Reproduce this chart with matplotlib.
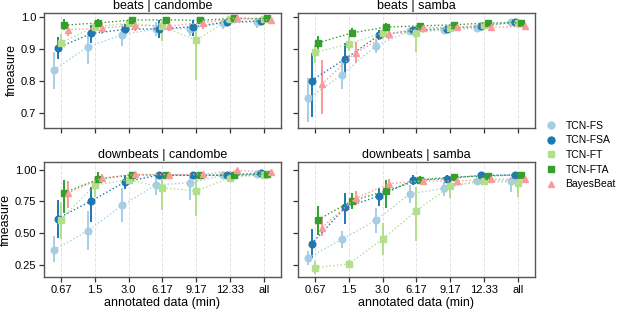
import numpy as np
import matplotlib
matplotlib.use("Agg")
import matplotlib.pyplot as plt

plt.rcParams["font.family"] = ["Liberation Sans", "DejaVu Sans"]

categories = ["0.67", "1.5", "3.0", "6.17", "9.17", "12.33", "all"]
models = ["TCN-FS", "TCN-FSA", "TCN-FT", "TCN-FTA", "BayesBeat"]
colors = ["#a6cee3", "#1f78b4", "#b2df8a", "#33a02c", "#fb9a99"]
markers = ["o", "o", "s", "s", "^"]

# beats | candombe  (mean, ci low, ci high) per model
bc_mean = {
    "TCN-FS":    [0.833, 0.906, 0.942, 0.962, 0.962, 0.980, 0.983],
    "TCN-FSA":   [0.902, 0.947, 0.960, 0.962, 0.968, 0.983, 0.986],
    "TCN-FT":    [0.918, 0.967, 0.980, 0.969, 0.926, 0.993, 0.993],
    "TCN-FTA":   [0.973, 0.980, 0.989, 0.990, 0.988, 0.994, 0.994],
    "BayesBeat": [0.959, 0.964, 0.972, 0.971, 0.980, 0.996, 0.988],
}
bc_lo = {
    "TCN-FS":    [0.772, 0.851, 0.909, 0.940, 0.940, 0.962, 0.965],
    "TCN-FSA":   [0.867, 0.918, 0.938, 0.932, 0.940, 0.970, 0.973],
    "TCN-FT":    [0.890, 0.948, 0.962, 0.924, 0.803, 0.986, 0.986],
    "TCN-FTA":   [0.957, 0.973, 0.980, 0.983, 0.978, 0.988, 0.988],
    "BayesBeat": [0.938, 0.945, 0.955, 0.954, 0.962, 0.990, 0.980],
}
bc_hi = {
    "TCN-FS":    [0.890, 0.952, 0.977, 0.983, 0.980, 0.990, 0.993],
    "TCN-FSA":   [0.936, 0.972, 0.978, 0.988, 0.990, 0.993, 0.996],
    "TCN-FT":    [0.946, 0.988, 0.993, 0.993, 0.962, 0.998, 0.998],
    "TCN-FTA":   [0.993, 0.993, 0.998, 0.998, 0.996, 0.998, 0.998],
    "BayesBeat": [0.978, 0.980, 0.988, 0.988, 0.990, 1.000, 0.996],
}

# beats | samba
bs_mean = {
    "TCN-FS":    [0.744, 0.818, 0.909, 0.955, 0.957, 0.964, 0.983],
    "TCN-FSA":   [0.800, 0.868, 0.942, 0.957, 0.962, 0.970, 0.983],
    "TCN-FT":    [0.888, 0.914, 0.949, 0.947, 0.965, 0.975, 0.980],
    "TCN-FTA":   [0.918, 0.949, 0.967, 0.971, 0.974, 0.980, 0.980],
    "BayesBeat": [0.788, 0.887, 0.945, 0.965, 0.967, 0.967, 0.969],
}
bs_lo = {
    "TCN-FS":    [0.670, 0.772, 0.885, 0.945, 0.948, 0.955, 0.975],
    "TCN-FSA":   [0.685, 0.818, 0.927, 0.949, 0.955, 0.962, 0.975],
    "TCN-FT":    [0.854, 0.893, 0.932, 0.890, 0.958, 0.968, 0.973],
    "TCN-FTA":   [0.895, 0.935, 0.955, 0.965, 0.967, 0.973, 0.973],
    "BayesBeat": [0.695, 0.854, 0.930, 0.957, 0.960, 0.960, 0.962],
}
bs_hi = {
    "TCN-FS":    [0.808, 0.865, 0.930, 0.966, 0.966, 0.973, 0.990],
    "TCN-FSA":   [0.885, 0.916, 0.957, 0.966, 0.970, 0.978, 0.990],
    "TCN-FT":    [0.911, 0.935, 0.962, 0.969, 0.972, 0.982, 0.987],
    "TCN-FTA":   [0.940, 0.963, 0.980, 0.978, 0.981, 0.987, 0.987],
    "BayesBeat": [0.865, 0.920, 0.960, 0.973, 0.974, 0.974, 0.976],
}

# downbeats | candombe
dc_mean = {
    "TCN-FS":    [0.367, 0.519, 0.718, 0.879, 0.897, 0.956, 0.964],
    "TCN-FSA":   [0.615, 0.755, 0.904, 0.959, 0.956, 0.959, 0.974],
    "TCN-FT":    [0.607, 0.879, 0.922, 0.858, 0.832, 0.938, 0.961],
    "TCN-FTA":   [0.819, 0.925, 0.961, 0.956, 0.956, 0.956, 0.964],
    "BayesBeat": [0.814, 0.935, 0.964, 0.961, 0.964, 0.995, 0.982],
}
dc_lo = {
    "TCN-FS":    [0.271, 0.370, 0.587, 0.800, 0.762, 0.930, 0.938],
    "TCN-FSA":   [0.465, 0.587, 0.845, 0.930, 0.930, 0.930, 0.955],
    "TCN-FT":    [0.457, 0.788, 0.880, 0.685, 0.633, 0.900, 0.935],
    "TCN-FTA":   [0.659, 0.880, 0.940, 0.935, 0.935, 0.935, 0.945],
    "BayesBeat": [0.698, 0.900, 0.945, 0.945, 0.945, 0.985, 0.970],
}
dc_hi = {
    "TCN-FS":    [0.478, 0.672, 0.853, 0.956, 0.943, 0.982, 0.990],
    "TCN-FSA":   [0.762, 0.866, 0.956, 0.982, 0.982, 0.982, 0.990],
    "TCN-FT":    [0.742, 0.943, 0.956, 0.956, 0.943, 0.975, 0.982],
    "TCN-FTA":   [0.922, 0.980, 0.982, 0.975, 0.975, 0.975, 0.982],
    "BayesBeat": [0.912, 0.965, 0.982, 0.980, 0.982, 1.005, 0.995],
}

# downbeats | samba
ds_mean = {
    "TCN-FS":    [0.305, 0.452, 0.600, 0.809, 0.853, 0.912, 0.912],
    "TCN-FSA":   [0.416, 0.703, 0.793, 0.917, 0.930, 0.956, 0.959],
    "TCN-FT":    [0.227, 0.256, 0.452, 0.677, 0.871, 0.912, 0.899],
    "TCN-FTA":   [0.607, 0.755, 0.832, 0.922, 0.943, 0.951, 0.961],
    "BayesBeat": [0.543, 0.775, 0.891, 0.912, 0.912, 0.925, 0.925],
}
ds_lo = {
    "TCN-FS":    [0.250, 0.380, 0.504, 0.736, 0.793, 0.885, 0.827],
    "TCN-FSA":   [0.302, 0.568, 0.711, 0.878, 0.905, 0.938, 0.943],
    "TCN-FT":    [0.180, 0.228, 0.328, 0.439, 0.775, 0.890, 0.788],
    "TCN-FTA":   [0.483, 0.690, 0.698, 0.895, 0.920, 0.935, 0.945],
    "BayesBeat": [0.478, 0.720, 0.850, 0.880, 0.890, 0.905, 0.905],
}
ds_hi = {
    "TCN-FS":    [0.362, 0.517, 0.698, 0.879, 0.904, 0.938, 0.945],
    "TCN-FSA":   [0.530, 0.814, 0.853, 0.956, 0.956, 0.975, 0.975],
    "TCN-FT":    [0.276, 0.284, 0.581, 0.866, 0.930, 0.930, 0.935],
    "TCN-FTA":   [0.716, 0.814, 0.922, 0.950, 0.968, 0.968, 0.975],
    "BayesBeat": [0.620, 0.830, 0.930, 0.945, 0.935, 0.945, 0.945],
}

panels = [
    ("beats | candombe", bc_mean, bc_lo, bc_hi),
    ("beats | samba", bs_mean, bs_lo, bs_hi),
    ("downbeats | candombe", dc_mean, dc_lo, dc_hi),
    ("downbeats | samba", ds_mean, ds_lo, ds_hi),
]

fig, axes = plt.subplots(2, 2, figsize=(6.22, 3.10), dpi=100, sharex=True, sharey="row")
fig.subplots_adjust(left=0.0707, right=0.860, top=0.958, bottom=0.106,
                    wspace=0.072, hspace=0.30)

x = np.arange(len(categories))
offsets = np.linspace(-0.2, 0.2, len(models))

for ax, (title, mean, lo, hi) in zip(axes.flat, panels):
    for i, m in enumerate(models):
        xs = x + offsets[i]
        ax.vlines(xs, lo[m], hi[m], color=colors[i], lw=1.4, zorder=2)
        ax.plot(xs, mean[m], ls=":", lw=1.0, color=colors[i], marker=markers[i],
                ms=5 if markers[i] != "o" else 4.8, mec=colors[i], mfc=colors[i],
                zorder=3, label=m)
    ax.set_title(title, fontsize=9, pad=3)
    ax.set_xlim(-0.5, len(categories) - 0.5)
    ax.set_xticks(x)
    ax.set_xticklabels(categories)
    ax.grid(axis="x", ls="--", color="#e3e3e3", lw=0.7)
    ax.set_axisbelow(True)
    for s in ax.spines.values():
        s.set_color("#555555")
        s.set_linewidth(1.0)
    ax.tick_params(labelsize=8, length=3.5, width=0.9, color="#333333", pad=2)

axes[0, 0].set_ylim(0.652, 1.011)
axes[0, 0].set_yticks([0.7, 0.8, 0.9, 1.0])
axes[1, 0].set_ylim(0.152, 1.059)
axes[1, 0].set_yticks([0.25, 0.50, 0.75, 1.00])
axes[0, 0].set_ylabel("fmeasure", fontsize=9, labelpad=2)
axes[1, 0].set_ylabel("fmeasure", fontsize=9, labelpad=2)
axes[1, 0].set_xlabel("annotated data (min)", fontsize=9, labelpad=1.5)
axes[1, 1].set_xlabel("annotated data (min)", fontsize=9, labelpad=1.5)

handles = [plt.Line2D([], [], ls="", marker=markers[i], color=colors[i], ms=5)
           for i in range(len(models))]
fig.legend(handles, models, loc="center left", bbox_to_anchor=(0.862, 0.5),
           frameon=False, fontsize=7.5, handlelength=1.0, handletextpad=0.9,
           labelspacing=0.45)

fig.savefig("out.png", dpi=100)
